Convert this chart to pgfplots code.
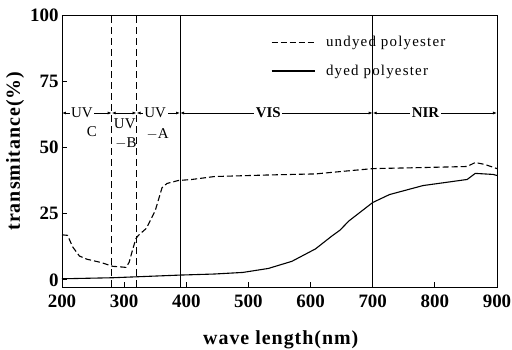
\documentclass[border=0pt]{standalone}
\usepackage{fontspec}
\setmainfont{Liberation Serif}
\newfontfamily\spaced[LetterSpace=8]{Liberation Serif}
\newfontfamily\spacedb[LetterSpace=5]{Liberation Serif}
\usepackage{pgfplots}
\pgfplotsset{compat=1.18}
\usetikzlibrary{arrows.meta}
\begin{document}
\begin{tikzpicture}
\begin{axis}[
  scale only axis, width=435bp, height=272bp,
  xmin=200, xmax=900, ymin=-2.7, ymax=100,
  xtick={200,300,...,900}, ytick={0,25,50,75,100},
  tick pos=left,
  /pgf/number format/assume math mode=true,
  /pgf/number format/set thousands separator={},
  ticklabel style={font=\fontsize{19}{19}\selectfont\bfseries},
  xticklabel style={yshift=-4bp},
  axis line style={line width=0.9bp},
  major tick length=5bp,
  tick style={black, line width=0.8bp},
  xlabel={\spacedb\bfseries wave length(nm)},
  ylabel={\spacedb\bfseries transmitance(\%)},
  xlabel style={font=\fontsize{20}{20}\selectfont, at={(axis description cs:0.503,-0.195)}, anchor=center},
  ylabel style={font=\fontsize{20}{20}\selectfont, at={(axis description cs:-0.108,0.5)}, anchor=center},
  clip=false,
  legend style={at={(0.48,0.93)}, anchor=north west, draw=none, fill=none,
    font=\fontsize{15}{15}\selectfont\spaced, row sep=13bp, inner sep=0pt},
  legend cell align=left,
  legend image code/.code={\draw[#1] (0bp,0bp) -- (43bp,0bp); \path (52bp,0bp);},
]
\addplot[black, line width=1.1bp, dash pattern=on 6bp off 3bp] coordinates {
(200,17) (209,16.8) (217,12.5) (228,9.0) (240,7.8) (262,6.6) (282,5.1) (294,4.9) (303,4.7)
(308,6.6) (314,11.7) (319,15.6) (323,16.8) (336,19.5) (350,26.1) (361,34.8) (369,36.4)
(387,37.5) (409,37.9) (445,39) (532,39.6) (608,40) (658,41.1) (700,42) (781,42.4)
(852,42.8) (865,44.3) (880,43.6) (900,42)
};
\addlegendentry{undyed polyester}
\addplot[black, line width=1.1bp] coordinates {
(200,0.4) (282,0.8) (390,1.8) (445,2.2) (491,2.8) (532,4.3) (570,7.0) (608,11.7)
(634,16.5) (647,18.7) (662,22.3) (700,29.2) (727,32.2) (781,35.6) (852,37.9)
(865,40.2) (894,39.8) (900,39.4)
};
\addlegendentry{dyed polyester}
% region boundaries
\addplot[forget plot, black, line width=1bp, dash pattern=on 7bp off 4bp] coordinates {(280,-2.7) (280,100)};
\addplot[forget plot, black, line width=1bp, dash pattern=on 7bp off 4bp] coordinates {(320,-2.7) (320,100)};
\addplot[forget plot, black, line width=1bp] coordinates {(390,-2.7) (390,100)};
\addplot[forget plot, black, line width=1bp] coordinates {(700,-2.7) (700,100)};
% region arrows
\addplot[forget plot, black, line width=0.9bp, {Latex[length=4bp,width=3bp]}-{Latex[length=4bp,width=3bp]}] coordinates {(200,63) (280,63)};
\addplot[forget plot, black, line width=0.9bp, {Latex[length=4bp,width=3bp]}-{Latex[length=4bp,width=3bp]}] coordinates {(280,63) (320,63)};
\addplot[forget plot, black, line width=0.9bp, {Latex[length=4bp,width=3bp]}-{Latex[length=4bp,width=3bp]}] coordinates {(320,63) (390,63)};
\addplot[forget plot, black, line width=0.9bp, {Latex[length=4bp,width=3bp]}-{Latex[length=4bp,width=3bp]}] coordinates {(390,63) (700,63)};
\addplot[forget plot, black, line width=0.9bp, {Latex[length=4bp,width=3bp]}-{Latex[length=4bp,width=3bp]}] coordinates {(700,63) (900,63)};
\begin{scope}[every node/.style={font=\fontsize{15}{15}\selectfont, inner sep=1.5bp}]
\node[fill=white] at (axis cs:232,63) {UV};
\node at (axis cs:248,56) {C};
\node at (axis cs:301,59) {UV};
\node at (axis cs:303,51.5) {$-$B};
\node[fill=white] at (axis cs:350,63) {UV};
\node at (axis cs:354,55) {$-$A};
\node[fill=white, font=\fontsize{15}{15}\selectfont\bfseries] at (axis cs:532,63) {VIS};
\node[fill=white, font=\fontsize{15}{15}\selectfont\bfseries] at (axis cs:785,63) {NIR};
\end{scope}
\end{axis}
\pgfresetboundingbox
\path[use as bounding box] (-62bp,-63bp) rectangle (450bp,287bp);
\end{tikzpicture}
\end{document}
